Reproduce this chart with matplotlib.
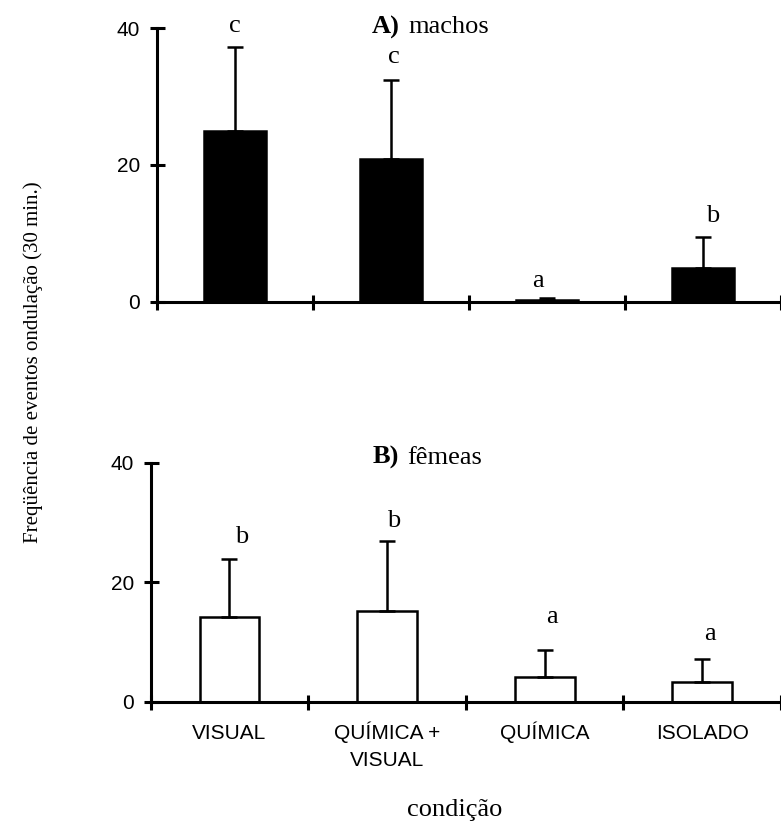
import matplotlib
matplotlib.use("Agg")
import matplotlib.pyplot as plt
import numpy as np

# ---------------- data ----------------
categories = ["VISUAL", "QUÍMICA +\nVISUAL", "QUÍMICA", "ISOLADO"]
yticks = [0, 20, 40]

machos_mean = [25.0, 20.9, 0.25, 4.9]
machos_sd = [12.2, 11.5, 0.3, 4.5]
machos_letters = ["c", "c", "a", "b"]
machos_letter_y = [39.5, 34.9, 2.2, 11.6]

femeas_mean = [14.2, 15.2, 4.2, 3.35]
femeas_sd = [9.7, 11.7, 4.45, 3.75]
femeas_letters = ["b", "b", "a", "a"]
femeas_letter_y = [26.5, 29.2, 13.1, 10.4]

ylabel = "Freqüência de eventos ondulação (30 min.)"
xlabel = "condição"

# ---------------- style ----------------
SERIF = "Liberation Serif"
SANS = "Liberation Sans"
W, H = 781, 824
LW = 2.2

fig = plt.figure(figsize=(W / 100, H / 100), dpi=100)


def make_axes(left_px, y0_px, y40_px, step_px):
    width_px = W - left_px
    ax = fig.add_axes([left_px / W, 1 - y0_px / H, width_px / W, (y0_px - y40_px) / H])
    ax.set_xlim(0, width_px / step_px)
    ax.set_ylim(0, 40)
    for s in ["top", "right"]:
        ax.spines[s].set_visible(False)
    for s in ["left", "bottom"]:
        ax.spines[s].set_linewidth(LW)
    ax.set_yticks(yticks)
    ax.set_yticklabels([str(v) for v in yticks], fontfamily=SANS, fontsize=15)
    ax.set_xticks(np.arange(0, len(categories) + 1))
    ax.set_xticklabels([])
    ax.tick_params(direction="inout", length=10.8, width=LW, pad=6.8)
    ax.patch.set_visible(False)
    return ax


def draw(ax, means, sds, color, width, letters, letter_y, letter_dx):
    x = np.arange(len(means)) + 0.5
    ax.bar(x, means, width=width, color=color, edgecolor="black", linewidth=1.8, zorder=2)
    ax.errorbar(x, means, yerr=[np.zeros(len(sds)), sds], fmt="none", ecolor="black",
                elinewidth=1.8, capsize=6, capthick=1.8, zorder=3)
    for xi, lab, ly, dx in zip(x, letters, letter_y, letter_dx):
        ax.text(xi + dx, ly, lab, ha="center", va="baseline", fontfamily=SERIF, fontsize=19)


ax1 = make_axes(157, 301.7, 28.3, 157)
draw(ax1, machos_mean, machos_sd, "black", 0.40, machos_letters, machos_letter_y,
     [0.0, 0.016, -0.06, 0.065])

ax2 = make_axes(150.7, 701.7, 462.7, 159)
draw(ax2, femeas_mean, femeas_sd, "white", 0.38, femeas_letters, femeas_letter_y,
     [0.075, 0.04, 0.046, 0.05])

# category labels under the lower panel (each line on its own baseline)
for i, cat in enumerate(categories):
    for k, line in enumerate(cat.split("\n")):
        ax2.annotate(line, xy=(i + 0.5, 0), xycoords=("data", "axes fraction"),
                     xytext=(0, -27.1 - 19.2 * k), textcoords="offset points",
                     ha="center", va="baseline", fontfamily=SANS, fontsize=15)

# panel titles
fig.text(400 / W, 1 - 33.3 / H, "A)", ha="right", va="baseline", fontfamily=SERIF,
         fontweight="bold", fontsize=19)
fig.text(408 / W, 1 - 33.3 / H, "machos", ha="left", va="baseline", fontfamily=SERIF, fontsize=19)
fig.text(399 / W, 1 - 464 / H, "B)", ha="right", va="baseline", fontfamily=SERIF,
         fontweight="bold", fontsize=19)
fig.text(407 / W, 1 - 464 / H, "fêmeas", ha="left", va="baseline", fontfamily=SERIF, fontsize=19)

# axis titles
fig.text(38 / W, 1 - 362.5 / H, ylabel, rotation=90, rotation_mode="anchor", ha="center",
         va="baseline", fontfamily=SERIF, fontsize=15)
fig.text(454.5 / W, 1 - 816 / H, xlabel, ha="center", va="baseline", fontfamily=SERIF, fontsize=19)

fig.savefig("out.png", dpi=100)
